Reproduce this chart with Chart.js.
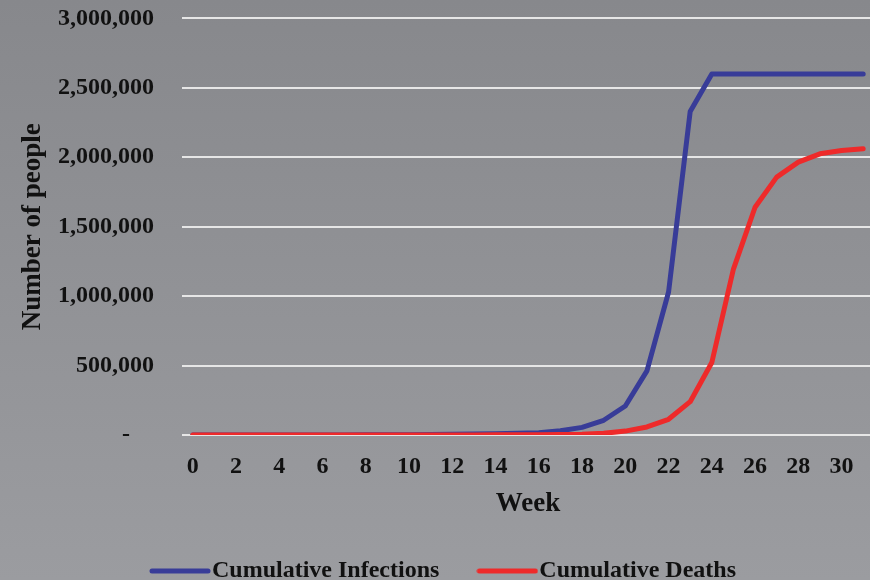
<!DOCTYPE html>
<html>
<head>
<meta charset="utf-8">
<script src="https://cdn.jsdelivr.net/npm/chart.js@4.4.1/dist/chart.umd.min.js"></script>
<style>
  html, body { margin: 0; padding: 0; overflow: hidden; background: #909195; }
  #wrap { width: 870px; height: 580px; overflow: hidden; }
  canvas { display: block; }
</style>
</head>
<body>
<div id="wrap"><canvas id="c" width="874" height="580"></canvas></div>
<script>
// Weeks since the start of the outbreak
const weeks = [0,1,2,3,4,5,6,7,8,9,10,11,12,13,14,15,16,17,18,19,20,21,22,23,24,25,26,27,28,29,30,31];

// Cumulative number of infected people per week
const cumulativeInfections = [
  5, 10, 20, 40, 80, 150, 300, 600, 1100, 1700, 2500, 3500, 5000, 7000, 9000, 12000,
  17000, 30000, 55000, 106000, 209000, 462000, 1030000, 2330000, 2600000, 2600000,
  2600000, 2600000, 2600000, 2600000, 2600000, 2600000
];

// Cumulative number of deaths per week
const cumulativeDeaths = [
  0, 0, 1, 2, 4, 8, 15, 30, 60, 100, 200, 350, 550, 800, 1100, 1500,
  2000, 3500, 6000, 12000, 28000, 58000, 113000, 240000, 522000, 1195000,
  1640000, 1857000, 1965000, 2025000, 2049000, 2061000
];

const seriesNames = ['Cumulative Infections', 'Cumulative Deaths'];
const seriesColors = ['#383c98', '#ee2a2a'];
// Deaths are painted over infections where the two lines meet
const drawOrder = [1, 0];

const FONT = 'Liberation Serif';
const INK = '#111111';
const EM = '\u2003';

// Legend sample: a thick rounded stroke, drawn wider than the legend box
function legendStroke(color) {
  const cv = document.createElement('canvas');
  cv.width = 62; cv.height = 8;
  const g = cv.getContext('2d');
  g.strokeStyle = color;
  g.lineWidth = 5;
  g.lineCap = 'round';
  g.beginPath();
  g.moveTo(3, 4); g.lineTo(59, 4);
  g.stroke();
  return cv;
}

const backdrop = {
  id: 'backdrop',
  beforeDraw(chart) {
    const ctx = chart.ctx;
    const grad = ctx.createLinearGradient(0, 0, 0, chart.height);
    grad.addColorStop(0, '#87888c');
    grad.addColorStop(1, '#9b9ca0');
    ctx.save();
    ctx.fillStyle = grad;
    ctx.fillRect(0, 0, chart.width, chart.height);
    ctx.restore();
  }
};

// Nudge the legend row a little to the right of the canvas centre
const legendNudge = {
  id: 'legendNudge',
  afterLayout(chart) {
    if (chart.legend) {
      chart.legend.left += 11;
      chart.legend.right += 11;
    }
  }
};

new Chart(document.getElementById('c'), {
  type: 'line',
  data: {
    labels: weeks,
    datasets: [
      { label: seriesNames[0], data: cumulativeInfections },
      { label: seriesNames[1], data: cumulativeDeaths }
    ].map((d, i) => Object.assign(d, {
      order: drawOrder[i],
      borderColor: seriesColors[i],
      backgroundColor: seriesColors[i],
      borderWidth: 5,
      borderCapStyle: 'round',
      borderJoinStyle: 'round',
      pointRadius: 0,
      pointHoverRadius: 0,
      tension: 0,
      fill: false
    }))
  },
  options: {
    responsive: false,
    animation: false,
    layout: { padding: { top: 0, right: 0, bottom: -13, left: 0 } },
    plugins: {
      tooltip: { enabled: false },
      legend: {
        position: 'bottom',
        labels: {
          usePointStyle: true,
          pointStyleWidth: 40,
          boxHeight: 8,
          padding: 48,
          color: INK,
          font: { family: FONT, size: 24, weight: 'bold' },
          generateLabels(chart) {
            return chart.data.datasets.map((ds, i) => ({
              text: ds.label,
              pointStyle: legendStroke(ds.borderColor),
              fillStyle: ds.borderColor,
              strokeStyle: ds.borderColor,
              lineWidth: 0,
              fontColor: INK,
              hidden: false,
              datasetIndex: i
            }));
          }
        }
      }
    },
    scales: {
      x: {
        type: 'category',
        offset: true,
        grid: { display: false, drawTicks: false },
        border: { display: false },
        ticks: {
          autoSkip: false,
          maxRotation: 0,
          padding: 8,
          color: INK,
          font: { family: FONT, size: 24, weight: 'bold', lineHeight: 2 },
          callback(value, index) { return index % 2 === 0 ? String(weeks[index]) : ''; }
        },
        title: {
          display: true,
          text: 'Week',
          color: INK,
          font: { family: FONT, size: 27, weight: 'bold', lineHeight: 0.55 },
          padding: { top: 4, bottom: 0 }
        },
        afterFit(scale) { scale.height = 76; }
      },
      y: {
        min: 0,
        max: 3000000,
        grid: { color: '#e6e6e6', lineWidth: 2, drawTicks: false },
        border: { display: false },
        ticks: {
          stepSize: 500000,
          padding: 4,
          color: INK,
          font: { family: FONT, size: 24, weight: 'bold' },
          callback(value) { return value === 0 ? '-' + EM + '    ' : value.toLocaleString('en-US') + EM; }
        },
        title: {
          display: true,
          text: 'Number of people',
          color: INK,
          font: { family: FONT, size: 27, weight: 'bold' },
          padding: { top: 17, bottom: 0 }
        },
        afterFit(scale) { scale.width = 182; }
      }
    }
  },
  plugins: [backdrop, legendNudge]
});
</script>
</body>
</html>
